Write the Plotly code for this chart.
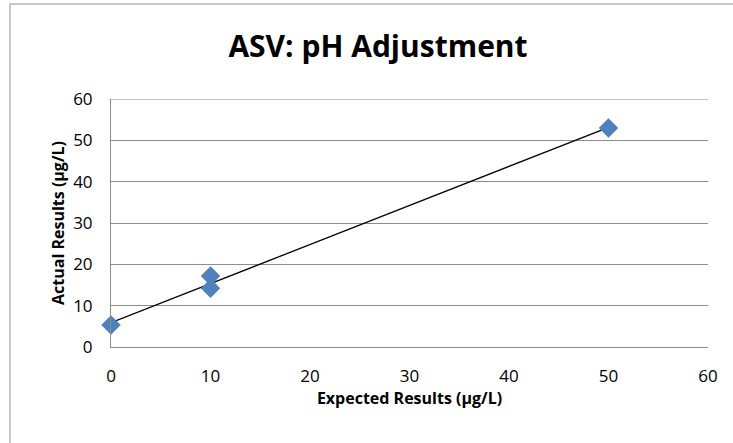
import numpy as np
import plotly.graph_objects as go

expected = [0, 10, 10, 50]
actual = [5.3, 17.2, 14.2, 53.0]
x_ticks = [0, 10, 20, 30, 40, 50, 60]
y_ticks = [0, 10, 20, 30, 40, 50, 60]

slope, intercept = np.polyfit(expected, actual, 1)
trend_x = [min(expected), max(expected)]
trend_y = [intercept + slope * v for v in trend_x]

W, H = 733, 443
L, R, T, B = 111, 25, 99, 96
pw, ph = W - L - R, H - T - B

fig = go.Figure()
fig.add_trace(go.Scatter(x=trend_x, y=trend_y, mode="lines",
                         line=dict(color="black", width=1.3), showlegend=False))
fig.add_trace(go.Scatter(x=expected, y=actual, mode="markers", cliponaxis=False,
                         marker=dict(symbol="diamond", size=15, color="#4F81BD",
                                     line=dict(width=0)), showlegend=False))

gray = "#8c8c8c"
fnt = "Open Sans"
fig.update_layout(
    width=W, height=H,
    margin=dict(l=L, r=R, t=T, b=B),
    paper_bgcolor="white", plot_bgcolor="white",
    font=dict(family=fnt, color="black"),
    title=dict(text="<b>ASV: pH Adjustment</b>", x=378 / W, xanchor="center",
               y=1 - 46 / H, yanchor="middle", font=dict(size=30, family=fnt)),
    xaxis=dict(range=[0, 60], tickvals=x_ticks, showgrid=False, showline=True,
               linecolor=gray, linewidth=1, ticks="outside", ticklen=14,
               tickcolor="rgba(0,0,0,0)", zeroline=False,
               tickfont=dict(size=17),
               title=dict(text="<b>Expected Results (µg/L)</b>", font=dict(size=16), standoff=6)),
    yaxis=dict(range=[0, 60], tickvals=y_ticks, showgrid=True, gridcolor=gray,
               gridwidth=1, showline=True, linecolor=gray, linewidth=1,
               ticks="outside", ticklen=14, tickcolor="rgba(0,0,0,0)",
               zeroline=False, tickfont=dict(size=17),
               title=dict(text="<b>Actual Results (µg/L)</b>", font=dict(size=16), standoff=4)),
    shapes=[dict(type="rect", xref="paper", yref="paper",
                 x0=(10 - L) / pw, x1=(745 - L) / pw,
                 y0=-(455 - (H - B)) / ph, y1=1 + (T - 4) / ph,
                 line=dict(color="#c8c8c8", width=2), layer="below"),
            dict(type="line", xref="paper", yref="y", x0=0, x1=1,
                 y0=max(y_ticks), y1=max(y_ticks),
                 line=dict(color=gray, width=1), layer="below")],
)

fig.write_html("out.html", config={"displayModeBar": False},
               post_script="document.body.style.margin='0';")
